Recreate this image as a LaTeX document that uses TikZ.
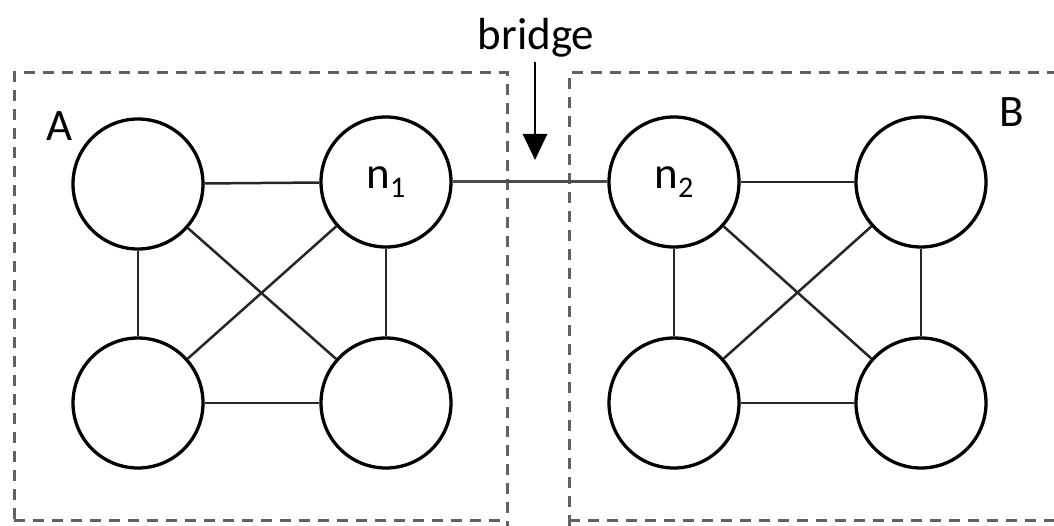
\documentclass[tikz,border=0pt]{standalone}
\usepackage{fontspec}
\setmainfont{Carlito}
\usetikzlibrary{arrows.meta}
\newcommand{\lowsub}[1]{\raisebox{-0.2em}{\fontsize{30}{36}\selectfont #1}}
\begin{document}
\begin{tikzpicture}[x=1pt,y=-1pt,
  vert/.style={circle,draw=black,line width=3.3pt,minimum size=130pt,inner sep=0pt,font=\fontsize{45}{54}\selectfont},
  edge/.style={line width=2.5pt,black!85},
  grp/.style={draw=black!62,line width=3pt,dash pattern=on 11pt off 8pt},
  lbl/.style={font=\fontsize{45}{54}\selectfont,inner sep=0pt}]
\useasboundingbox (0,0) rectangle (1054,526);
\draw[grp] (14,519) -- (14,73) -- (507,73) -- (507,526);
\draw[grp] (569,526) -- (569,73) -- (1060,73);
\draw[grp] (14,520) -- (507,520);
\draw[grp] (569,520) -- (1060,520);
\node[lbl] (A) at (60,126) {A};
\node[lbl] (B) at (1012,112) {B};
% group A
\node[vert] (a1) at (138,184) {};
\node[vert] (n1) at (386,182) {n\lowsub{1}};
\node[vert] (a3) at (138,403) {};
\node[vert] (a4) at (386,403) {};
% group B
\node[vert] (n2) at (674,182) {n\lowsub{2}};
\node[vert] (b2) at (921,182) {};
\node[vert] (b3) at (674,403) {};
\node[vert] (b4) at (921,403) {};
\foreach \u/\v in {a1/n1,a1/a3,n1/a4,a3/a4,a1/a4,n1/a3,n2/b2,n2/b3,b2/b4,b3/b4,n2/b4,b2/b3}
  \draw[edge] (\u) -- (\v);
\draw[line width=3pt,black!70] (n1) -- (n2);
\node[lbl,anchor=base] (br) at (536,50) {bridge};
\coordinate (tip) at (535,160);
\draw[line width=2.8pt,-{Triangle[width=24pt,length=26pt]}] (535,62) -- (tip);
\end{tikzpicture}
\end{document}
